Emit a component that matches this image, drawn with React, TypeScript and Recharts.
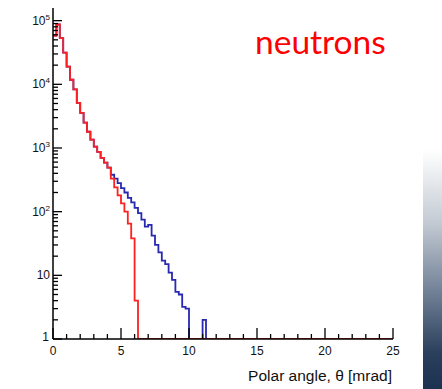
import React from 'react';
import { LineChart, Line, XAxis, YAxis } from 'recharts';

// Bin low edges (mrad), bin width 0.25; final entry closes the histogram at 25
const thetaEdges = [
  0, 0.25, 0.5, 0.75, 1, 1.25, 1.5, 1.75, 2, 2.25, 2.5, 2.75, 3, 3.25, 3.5, 3.75,
  4, 4.25, 4.5, 4.75, 5, 5.25, 5.5, 5.75, 6, 6.25, 6.5, 6.75, 7, 7.25, 7.5, 7.75,
  8, 8.25, 8.5, 8.75, 9, 9.25, 9.5, 9.75, 10, 10.25, 10.5, 10.75, 11, 11.25, 25,
];

// Counts common to both histograms (0 - 4.25 mrad)
const sharedCounts = [
  58000, 87000, 53000, 31500, 19000, 11800, 8300, 5100, 3560, 2500, 1800, 1350,
  1050, 870, 700, 590, 490,
];
// Red histogram from 4.25 mrad on (empty bins afterwards)
const redTail = [330, 240, 180, 135, 100, 65, 38, 4];
// Blue histogram from 4.25 mrad on
const blueTail = [
  380, 330, 280, 235, 200, 165, 140, 115, 95, 75, 58, 62, 42, 30, 23, 17, 15, 11,
  8.5, 5.5, 5, 3.2, 3, 0, 0, 0, 0, 2,
];

const xMajorLabels = [0, 5, 10, 15, 20, 25];
const xTicks = Array.from({ length: 26 }, (_, i) => i);
const decades = [1, 10, 100, 1000, 10000, 100000];
const yTicks = decades.flatMap((d) => (d === 100000 ? [d] : [1, 2, 3, 4, 5, 6, 7, 8, 9].map((m) => m * d)));

const Y_FLOOR = 1;
const Y_TOP = 158000;

const redCounts = [...sharedCounts, ...redTail];
const blueCounts = [...sharedCounts, ...blueTail];

const data = thetaEdges.map((x, i) => ({
  x,
  red: Math.max(i < redCounts.length ? redCounts[i] : 0, Y_FLOOR),
  blue: Math.max(i < blueCounts.length ? blueCounts[i] : 0, Y_FLOOR),
}));

const FONT = '"Liberation Sans", Arial, Helvetica, sans-serif';

const XTick = (props: any) => {
  const { x, y, payload } = props;
  const v = payload.value;
  const major = v % 5 === 0;
  return (
    <g>
      <line x1={x} x2={x} y1={y} y2={y - (major ? 11 : 5)} stroke="#000" strokeWidth={1.3} />
      {xMajorLabels.includes(v) && (
        <text x={x} y={y + 16} textAnchor="middle" fontFamily={FONT} fontSize={12} fill="#111">
          {v}
        </text>
      )}
    </g>
  );
};

const YTick = (props: any) => {
  const { x, y, payload } = props;
  const v = payload.value;
  const exp = Math.round(Math.log10(v));
  const major = Math.abs(Math.pow(10, exp) - v) < 1e-6;
  let label: React.ReactNode = null;
  if (major) {
    if (exp === 0) {
      label = (
        <text x={x - 4} y={y + 2} textAnchor="end" fontFamily={FONT} fontSize={12} fill="#111">
          1
        </text>
      );
    } else if (exp === 1) {
      label = (
        <text x={x - 3} y={y + 4} textAnchor="end" fontFamily={FONT} fontSize={12} fill="#111">
          10
        </text>
      );
    } else {
      label = (
        <text x={x - 3} y={y + 4} textAnchor="end" fontFamily={FONT} fontSize={12} fill="#111">
          <tspan>10</tspan>
          <tspan fontSize={8} dy={-5}>{exp}</tspan>
        </text>
      );
    }
  }
  return (
    <g>
      <line x1={x} x2={x + (major ? 9 : 5)} y1={y} y2={y} stroke="#000" strokeWidth={1.3} />
      {label}
    </g>
  );
};

export default function App() {
  return (
    <div style={{ position: 'absolute', left: 0, top: 0, width: 442, height: 389, background: '#fff', overflow: 'hidden' }}>
      <LineChart width={442} height={389} data={data} margin={{ top: 8, right: 49, left: 0, bottom: 0 }}>
        <XAxis
          dataKey="x"
          type="number"
          domain={[0, 25]}
          ticks={xTicks}
          interval={0}
          tickSize={0}
          tickMargin={0}
          tickLine={false}
          tick={<XTick />}
          height={50}
          axisLine={{ stroke: '#000', strokeWidth: 1.5 }}
          allowDataOverflow
        />
        <XAxis
          xAxisId="top"
          orientation="top"
          dataKey="x"
          type="number"
          domain={[0, 25]}
          height={0}
          tick={false}
          tickLine={false}
          axisLine={{ stroke: '#000', strokeWidth: 1.5 }}
        />
        <YAxis
          scale="log"
          type="number"
          domain={[Y_FLOOR, Y_TOP]}
          ticks={yTicks}
          interval={0}
          tickSize={0}
          tickMargin={0}
          tickLine={false}
          tick={<YTick />}
          width={53}
          axisLine={{ stroke: '#000', strokeWidth: 1.5 }}
          allowDataOverflow
        />
        <YAxis
          yAxisId="r"
          orientation="right"
          scale="log"
          type="number"
          domain={[Y_FLOOR, Y_TOP]}
          width={0}
          tick={false}
          tickLine={false}
          axisLine={{ stroke: '#000', strokeWidth: 1.5 }}
          allowDataOverflow
        />
        <Line
          type="stepAfter"
          dataKey="blue"
          stroke="#2828b0"
          strokeWidth={1.8}
          dot={false}
          isAnimationActive={false}
        />
        <Line
          type="stepAfter"
          dataKey="red"
          stroke="#ff2020"
          strokeWidth={1.8}
          dot={false}
          isAnimationActive={false}
        />
      </LineChart>
      <div
        style={{
          position: 'absolute',
          right: 50,
          top: 368,
          fontFamily: FONT,
          fontSize: 15.5,
          color: '#111',
          whiteSpace: 'nowrap',
          lineHeight: '16px',
        }}
      >
        Polar angle, θ [mrad]
      </div>
      <div
        style={{
          position: 'absolute',
          left: 255,
          top: 21,
          fontFamily: 'Lato, "Open Sans", sans-serif',
          fontSize: 33.5,
          color: '#ff0000',
          whiteSpace: 'nowrap',
          lineHeight: '40px',
        }}
      >
        neutrons
      </div>
      <div
        style={{
          position: 'absolute',
          left: 423,
          top: 150,
          width: 19,
          height: 239,
          background: 'linear-gradient(to bottom, #ffffff 0%, #c4cbd4 30%, #6f7f95 60%, #2a3f5c 85%, #1c3251 100%)',
        }}
      />
    </div>
  );
}
